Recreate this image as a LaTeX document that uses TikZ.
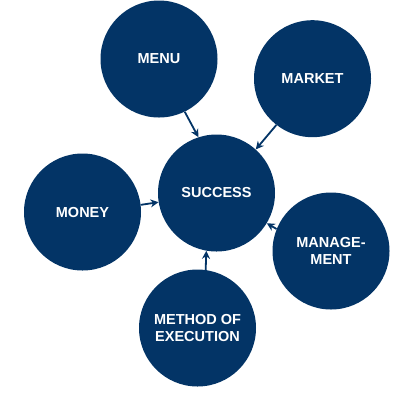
\documentclass[tikz,border=0pt]{standalone}
\usepackage{fontspec}
\setmainfont{Liberation Sans}
\usetikzlibrary{arrows.meta}
\definecolor{navy}{RGB}{3,52,102}
\begin{document}
\begin{tikzpicture}[x=1pt,y=-1pt,
  bubble/.style={circle,fill=navy,minimum size=117pt,inner sep=0pt,text=white,
    font=\bfseries\fontsize{14.5}{17.5}\selectfont,align=center},
  link/.style={draw=navy,line width=1.8pt,-{Stealth[length=8pt,width=8pt]}}]
\useasboundingbox (0,0) rectangle (414,400);
\node[bubble] (success) at (216.5,193) {SUCCESS};
\node[bubble] (menu) at (159,59) {MENU};
\node[bubble] (market) at (312.5,78.7) {MARKET};
\node[bubble] (money) at (82.5,212) {MONEY};
\node[bubble] (mgmt) at (331,251) {MANAGE-\\MENT};
\node[bubble] (method) at (197.5,328) {METHOD OF\\EXECUTION};
\draw[link] (menu.-64) -- (success.108);
\draw[link] (market.-128) -- (success.48);
\draw[link] (money.7) -- (success.189);
\draw[link] (mgmt.158) -- (success.-31);
\draw[link] (method.82) -- (success.-100);
\end{tikzpicture}
\end{document}
